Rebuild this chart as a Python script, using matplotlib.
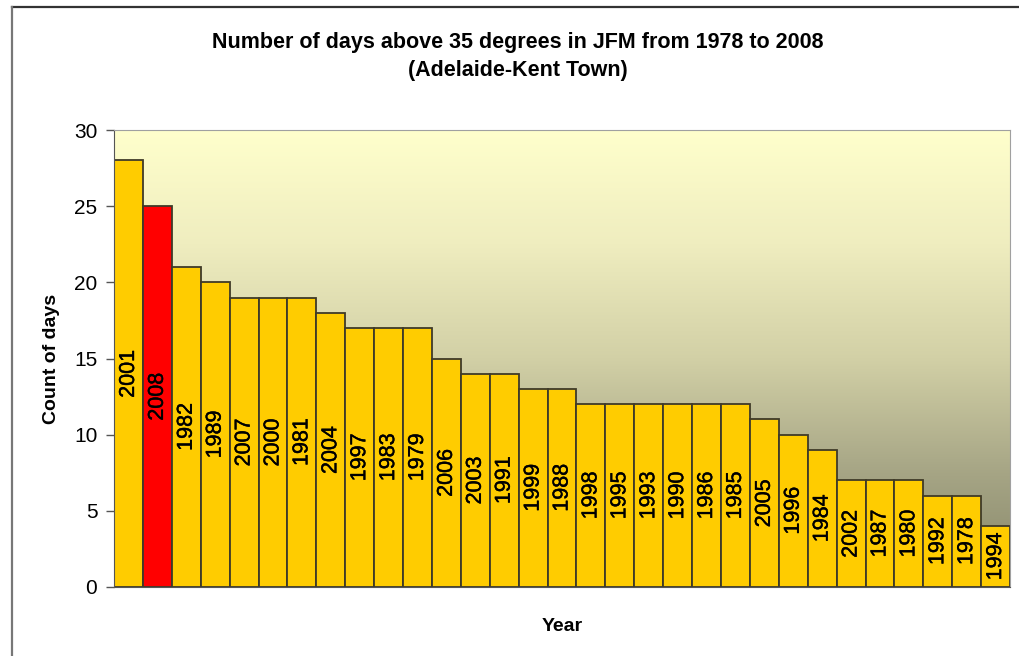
import numpy as np
import matplotlib.pyplot as plt
import matplotlib.patheffects as pe
from matplotlib.colors import LinearSegmentedColormap
from matplotlib.lines import Line2D

plt.rcParams['font.family'] = ['Liberation Sans', 'DejaVu Sans']

# Days above 35 degrees per JFM season, sorted from most to fewest
years = ['2001', '2008', '1982', '1989', '2007', '2000', '1981', '2004', '1997', '1983',
         '1979', '2006', '2003', '1991', '1999', '1988', '1998', '1995', '1993', '1990',
         '1986', '1985', '2005', '1996', '1984', '2002', '1987', '1980', '1992', '1978',
         '1994']
days = [28, 25, 21, 20, 19, 19, 19, 18, 17, 17,
        17, 15, 14, 14, 13, 13, 12, 12, 12, 12,
        12, 12, 11, 10, 9, 7, 7, 7, 6, 6,
        4]
highlight = '2008'
y_ticks = [0, 5, 10, 15, 20, 25, 30]

fig = plt.figure(figsize=(10.19, 6.56), dpi=100)
ax = fig.add_axes([0.1119, 0.1052, 0.8793, 0.6966])

# plot-area background: pale yellow fading to olive grey
bg = LinearSegmentedColormap.from_list(
    'bg', ['#858568', '#a6a585', '#d2d0a6', '#efedbf', '#ffffcc'])
grad = np.linspace(0, 1, 256).reshape(-1, 1)
x = np.arange(len(years))
ax.set_xlim(-0.5, len(years) - 0.5)
ax.set_ylim(0, 30)
ax.imshow(grad, cmap=bg, origin='lower', aspect='auto',
          extent=[-0.5, len(years) - 0.5, 0, 30], zorder=0)

colors = ['#ff0000' if y == highlight else '#ffcc00' for y in years]
ax.bar(x, days, width=1.0, color=colors, edgecolor='#3f3a28', linewidth=1.3, zorder=2)

thick = [pe.withStroke(linewidth=0.3, foreground='black')]
for xi, yr, d in zip(x, years, days):
    ax.text(xi, d / 2, yr, rotation=90, ha='center', va='center',
            fontsize=15.5, color='black', zorder=3, path_effects=thick)

ax.set_yticks(y_ticks)
ax.tick_params(axis='y', labelsize=15, length=6, width=1, color='#555555', pad=6)
ax.set_xticks([])
for side in ['top', 'right']:
    ax.spines[side].set_color('#a0a0a0')
ax.spines['left'].set_color('#555555')
ax.spines['bottom'].set_color('#555555')

ax.set_ylabel('Count of days', fontsize=14, fontweight='bold', labelpad=10)
ax.set_xlabel('Year', fontsize=14, fontweight='bold', labelpad=22)

fig.text(0.508, 0.935, 'Number of days above 35 degrees in JFM from 1978 to 2008',
         ha='center', va='center', fontsize=15.5, fontweight='bold')
fig.text(0.508, 0.892, '(Adelaide-Kent Town)',
         ha='center', va='center', fontsize=15.5, fontweight='bold')

# outer chart frame
fig.add_artist(Line2D([0.012, 1.0], [0.989, 0.989], color='#333333', lw=1.6))
fig.add_artist(Line2D([0.012, 0.012], [0.0, 0.989], color='#777777', lw=1.6))

fig.savefig('out.png', dpi=100)
